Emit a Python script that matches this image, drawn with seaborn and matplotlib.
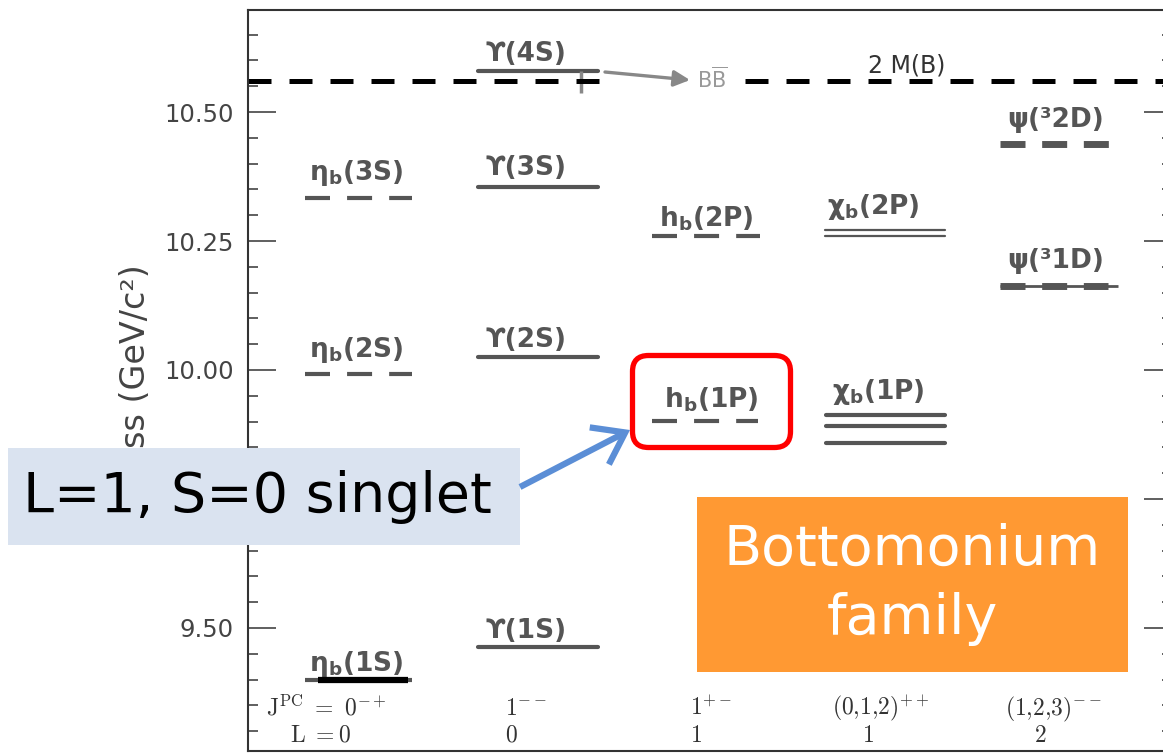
import numpy as np
import pandas as pd
import matplotlib
matplotlib.use("Agg")
import matplotlib.pyplot as plt
import seaborn as sns
from matplotlib.patches import FancyBboxPatch, Rectangle, FancyArrowPatch
from matplotlib.ticker import MultipleLocator, FormatStrFormatter

# ---------------- data (masses in GeV/c^2) ----------------
level_mass = [10.333, 9.992, 9.399,            # eta_b(3S,2S,1S)
              10.579, 10.355, 10.025, 9.463,   # Upsilon(4S..1S)
              10.260, 9.901,                   # h_b(2P,1P)
              10.271, 10.260,                  # chi_b(2P)
              9.913, 9.891, 9.858,             # chi_b(1P)
              10.438, 10.163]                  # psi(3 2D), psi(3 1D)
level_x0 = [0.57, 0.57, 0.57, 2.30, 2.30, 2.30, 2.30, 4.04, 4.04,
            5.77, 5.77, 5.78, 5.78, 5.78, 7.52, 7.52]
level_x1 = [1.64, 1.64, 1.64, 3.50, 3.50, 3.50, 3.50, 5.12, 5.10,
            6.97, 6.97, 6.97, 6.97, 6.97, 8.62, 8.60]
level_kind = ["dash", "dash", "dash", "solid", "solid", "solid", "solid",
              "dash", "dash", "thin", "thin", "mid", "mid", "mid",
              "thick", "thick"]

label_text = [r"$\mathbf{\eta}_{\mathbf{b}}$(3S)", r"$\mathbf{\eta}_{\mathbf{b}}$(2S)",
              r"$\mathbf{\eta}_{\mathbf{b}}$(1S)",
              "ϒ(4S)", "ϒ(3S)", "ϒ(2S)", "ϒ(1S)",
              r"h$_{\mathbf{b}}$(2P)", r"h$_{\mathbf{b}}$(1P)",
              r"$\mathbf{\chi}_{\mathbf{b}}$(2P)", r"$\mathbf{\chi}_{\mathbf{b}}$(1P)",
              "ψ(³2D)", "ψ(³1D)"]
label_x = [0.61, 0.61, 0.61, 2.37, 2.37, 2.37, 2.37, 4.11, 4.16, 5.79, 5.84, 7.59, 7.59]
label_mass = [10.333, 9.992, 9.399, 10.579, 10.355, 10.025, 9.463,
              10.260, 9.901, 10.271, 9.913, 10.438, 10.163]
label_dy_px = [18, 17, 9, 10, 12, 10, 9, 9, 14, 16, 16, 17, 18]

threshold_mass = 10.560      # 2 M(B)
etab1s_black = (0.70, 1.60)  # black marker on eta_b(1S)
psi1d_thin = (7.52, 8.70)

jpc_text = [r"$\mathrm{J^{PC}\ =\ 0^{-+}}$", r"$\mathrm{1^{--}}$", r"$\mathrm{1^{+-}}$",
            r"$\mathrm{(0{,}1{,}2)^{++}}$", r"$\mathrm{(1{,}2{,}3)^{--}}$"]
jpc_x = [0.18, 2.57, 4.42, 5.84, 7.57]
L_text = [r"$\mathrm{L\ =0}$", r"$\mathrm{0}$", r"$\mathrm{1}$", r"$\mathrm{1}$", r"$\mathrm{2}$"]
L_x = [0.42, 2.57, 4.42, 6.14, 7.86]

# ---------------- figure ----------------
sns.set_theme(style="white")
plt.rcParams["font.family"] = ["DejaVu Sans"]
plt.rcParams["mathtext.fontset"] = "dejavusans"

W, H = 1163, 753
fig = plt.figure(figsize=(W / 100, H / 100), dpi=100)
ax = fig.add_axes([248 / W, 2 / H, 924 / W, 741 / H])
ax.set_xlim(0, 9.24)
ax.set_ylim(9.2616, 10.6977)

GRAY = "#555555"
df = pd.DataFrame({"mass": level_mass, "x0": level_x0, "x1": level_x1, "kind": level_kind})

# solid levels drawn through seaborn
solid = df[df.kind.isin(["solid", "thin", "mid"])].reset_index(drop=True)
long = pd.DataFrame({
    "x": np.r_[solid.x0, solid.x1],
    "y": np.r_[solid.mass, solid.mass],
    "lvl": np.r_[solid.index, solid.index],
    "kind": np.r_[solid.kind, solid.kind],
})
for kind, lw in [("solid", 3.0), ("mid", 3.0), ("thin", 1.6)]:
    sub = long[long.kind == kind]
    sns.lineplot(data=sub, x="x", y="y", units="lvl", estimator=None, color=GRAY,
                 lw=lw, ax=ax, legend=False, solid_capstyle="round")

dash = df[df.kind == "dash"]
ax.hlines(dash.mass, dash.x0, dash.x1, colors=GRAY, lw=3.0, linestyles=[(0, (6.0, 4.1))])
thick = df[df.kind == "thick"]
ax.hlines(thick.mass, thick.x0, thick.x1, colors=GRAY, lw=5.0, linestyles=[(0, (3.6, 2.4))])
ax.hlines(level_mass[15], *psi1d_thin, colors=GRAY, lw=2.0)
ax.hlines(level_mass[2], *etab1s_black, colors="black", lw=4.5, zorder=4)
# Upsilon(4S) width marker
ax.vlines(3.33, 10.537, level_mass[3], colors="#888888", lw=2.5)

# 2 M(B) threshold
ax.hlines(threshold_mass, 0, 3.57, colors="black", lw=3.6, linestyles=[(0, (4.6, 3.6))])
ax.hlines(threshold_mass, 4.97, 9.24, colors="black", lw=3.6, linestyles=[(0, (4.6, 3.6))])
ax.text(6.20, 10.5775, "2 M(B)", fontsize=17, color="#333333", ha="left", va="baseline")
ax.text(4.49, 10.5465, r"B$\overline{\mathrm{B}}$", fontsize=15, color="#999999",
        ha="left", va="baseline")
ax.annotate("", xy=(4.42, 10.5620), xytext=(3.57, 10.5775),
            arrowprops=dict(arrowstyle="-|>", color="#888888", lw=2.4, mutation_scale=24,
                            shrinkA=0, shrinkB=0))

# level labels
for t, x, m, dy in zip(label_text, label_x, label_mass, label_dy_px):
    ax.annotate(t, xy=(x, m), xytext=(0, dy * 0.72), textcoords="offset points",
                ha="left", va="baseline", fontsize=19, fontweight="bold", color=GRAY)

# quantum numbers at bottom
for t, x in zip(jpc_text, jpc_x):
    ax.text(x, 9.3305, t, fontsize=17, color="#333333", ha="left", va="baseline",
            math_fontfamily="cm")
for t, x in zip(L_text, L_x):
    ax.text(x, 9.280, t, fontsize=17, color="#333333", ha="left", va="baseline",
            math_fontfamily="cm")

# axes styling
ax.set_xticks([])
ax.yaxis.set_major_locator(MultipleLocator(0.25))
ax.yaxis.set_minor_locator(MultipleLocator(0.05))
ax.yaxis.set_major_formatter(FormatStrFormatter("%.2f"))
ax.tick_params(axis="y", which="major", direction="in", length=20, width=1.2,
               left=True, right=True, labelsize=17.5, color="#444444", labelcolor="#444444", pad=10)
ax.tick_params(axis="y", which="minor", direction="in", length=7, width=1.2,
               left=True, right=True, color="#444444")
for s in ax.spines.values():
    s.set_color("#333333")
    s.set_linewidth(1.5)
ax.set_xlabel("")
ax.set_ylabel("Mass (GeV/c²)", fontsize=24, color="#444444")
ax.yaxis.set_label_coords(-0.104, 0.5)

# annotations (overlay)
T = fig.dpi_scale_trans
red = FancyBboxPatch((6.325, 3.055), 1.58, 0.92, boxstyle="round,pad=0,rounding_size=0.16",
                     transform=T, fill=False, edgecolor="#FF0000", lw=3.8, zorder=6)
fig.patches.append(red)
blue = Rectangle((0.08, 2.08), 5.12, 0.97, transform=T, facecolor="#DAE3F0",
                 edgecolor="none", zorder=5)
fig.patches.append(blue)
fig.text(2.57, 2.56, "L=1, S=0 singlet", transform=T, fontsize=40, color="black",
         ha="center", va="center", zorder=7)
orange = Rectangle((6.97, 0.81), 4.31, 1.75, transform=T, facecolor="#FF9933",
                   edgecolor="none", zorder=5)
fig.patches.append(orange)
fig.text(9.125, 1.685, "Bottomonium\nfamily", transform=T, fontsize=40, color="white",
         ha="center", va="center", linespacing=1.35, zorder=7)
arr = FancyArrowPatch((5.20, 2.66), (6.30, 3.23), transform=T,
                      arrowstyle="->,head_length=0.7,head_width=0.5", mutation_scale=30,
                      color="#5B8ED6", lw=4.5, shrinkA=0, shrinkB=0, zorder=7,
                      capstyle="butt", joinstyle="miter")
fig.patches.append(arr)

fig.savefig("out.png", dpi=100)
